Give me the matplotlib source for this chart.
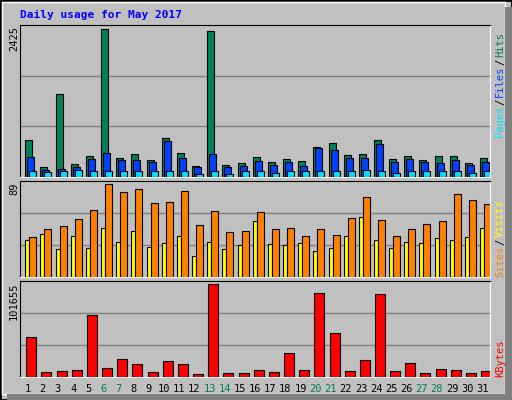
import matplotlib

matplotlib.use("Agg")

import matplotlib.pyplot as plt
import numpy as np
from matplotlib.patches import Rectangle

HITS_C = "#00805c"
FILES_C = "#0040ff"
PAGES_C = "#00e0ff"
SITES_C = "#ffff00"
VISITS_C = "#ff8000"
KB_C = "#ff0000"
BG = "#c0c0c0"
GRID = "#808080"
FONT = "DejaVu Sans Mono"

days = list(range(1, 32))
weekend = [6, 7, 13, 14, 20, 21, 27, 28]
hits = [603, 159, 1361, 208, 340, 2425, 307, 373, 274, 636, 390, 176, 2392, 192, 225, 324,
        241, 291, 258, 488, 554, 357, 373, 603, 291, 340, 274, 340, 340, 225, 307]
files = [324, 110, 126, 159, 291, 390, 274, 274, 241, 587, 307, 159, 373, 159, 176, 258,
         192, 241, 176, 472, 439, 307, 307, 538, 241, 291, 241, 225, 274, 192, 241]
pages = [93, 77, 93, 110, 93, 93, 93, 93, 93, 93, 93, 44, 93, 44, 93, 93,
         60, 93, 93, 93, 93, 93, 110, 93, 60, 93, 93, 93, 93, 60, 93]
sites = [36, 41, 27, 39, 28, 47, 34, 44, 29, 33, 39, 20, 34, 27, 31, 54,
         32, 31, 33, 25, 28, 39, 58, 36, 28, 34, 33, 37, 36, 38, 47]
visits = [38, 46, 49, 56, 64, 89, 82, 85, 71, 72, 83, 50, 63, 43, 44, 62,
          46, 47, 39, 46, 40, 57, 77, 55, 39, 46, 51, 54, 80, 74, 70]
kbytes = [43990, 5175, 6285, 7394, 67280, 9612, 19592, 14047, 5175, 17374, 14047, 2957,
          101655, 4066, 4066, 7394, 5175, 26246, 7394, 91676, 48426, 6285, 18483, 90567,
          6285, 15156, 4066, 8502, 7394, 4066, 6285]

W, H = 512, 400
fig = plt.figure(figsize=(W / 100, H / 100), dpi=100)
fig.patch.set_facecolor(BG)

# bevelled outer frame
fig.add_artist(Rectangle((0, 0), 1, 1, transform=fig.transFigure, fill=False,
                         edgecolor="black", linewidth=2))
fig.add_artist(Rectangle((2 / W, 6 / H), (W - 9) / W, (H - 8) / H, transform=fig.transFigure,
                         fill=False, edgecolor="white", linewidth=1))
fig.add_artist(Rectangle((7 / W, 0), (W - 7) / W, 6 / H, transform=fig.transFigure,
                         facecolor="#808080", edgecolor="none"))
fig.add_artist(Rectangle(((W - 7) / W, 0), 7 / W, (H - 7) / H, transform=fig.transFigure,
                         facecolor="#808080", edgecolor="none"))

fig.text(20 / W, 1 - 15 / H, "Daily usage for May 2017", color="#0000ff", fontsize=8,
         fontweight="bold", family=FONT, va="center")

x = np.arange(len(days))
px = 1 / (470 / 31)


def panel(top, bottom, ymax):
    ax = fig.add_axes([20 / W, 1 - bottom / H, 470 / W, (bottom - top) / H])
    ax.set_facecolor(BG)
    ax.set_xlim(0, 31)
    ax.set_ylim(0, ymax)
    ax.set_xticks([])
    ax.set_yticks([ymax / 3, 2 * ymax / 3])
    ax.tick_params(left=False, labelleft=False)
    ax.grid(True, axis="y", color=GRID, linewidth=1)
    ax.set_axisbelow(True)
    for s in ("top", "left"):
        ax.spines[s].set_color("black")
    for s in ("bottom", "right"):
        ax.spines[s].set_color("white")
    return ax


def bars(ax, values, off, width, color):
    ax.bar(x + off * px, values, width=width * px, align="edge", color=color,
           edgecolor="black", linewidth=0.8, zorder=3)


ax1 = panel(25, 177, 2425 * 455 / 442)
bars(ax1, hits, 5.3, 7, HITS_C)
bars(ax1, files, 7.3, 7, FILES_C)
bars(ax1, pages, 9.3, 7, PAGES_C)

ax2 = panel(181, 277, 89 * 286 / 276)
bars(ax2, sites, 5.3, 4, SITES_C)
bars(ax2, visits, 9.3, 7, VISITS_C)

ax3 = panel(281, 377, 101655 * 284 / 275)
bars(ax3, kbytes, 6.3, 10, KB_C)

for label, ytop in (("2425", 26), ("89", 182), ("101655", 282)):
    fig.text(14 / W, 1 - ytop / H, label, rotation=90, fontsize=7.5, family=FONT,
             ha="center", va="top")

for d in days:
    fig.text((20 + (d - 0.5) * 470 / 31) / W, 1 - 389 / H, str(d), fontsize=7.5,
             family=FONT, ha="center", va="center",
             color=HITS_C if d in weekend else "black")


def side(parts, ybottom):
    y = ybottom
    for text, color in parts:
        t = fig.text(500 / W, 1 - y / H, text, rotation=90, fontsize=7.5, family=FONT,
                     color=color, ha="center", va="bottom")
        y -= len(text) * 6.0 + 2


side([("Pages", PAGES_C), ("/", "black"), ("Files", FILES_C), ("/", "black"),
      ("Hits", HITS_C)], 137)
side([("Sites", VISITS_C), ("/", "black"), ("Visits", SITES_C)], 277)
side([("KBytes", KB_C)], 377)

fig.savefig("out.png", dpi=100, facecolor=BG)
